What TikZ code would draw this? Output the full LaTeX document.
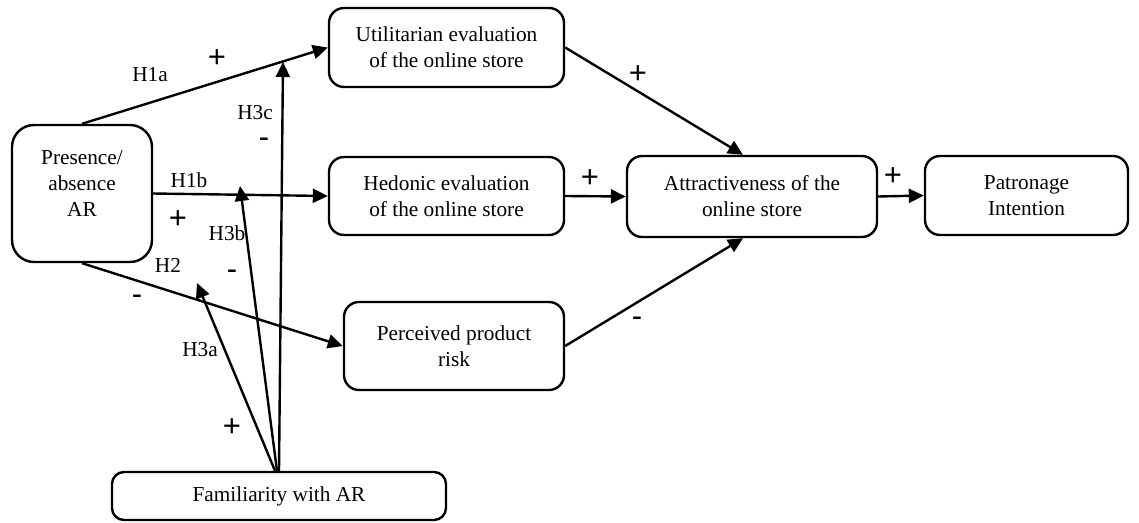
\documentclass[tikz,border=0pt]{standalone}
\usepackage{fontspec}
\setmainfont{Liberation Serif}
\newfontfamily\signfont{Liberation Sans}
\usepackage{tikz}
\usetikzlibrary{arrows.meta}
\tikzstyle{box}=[draw, line width=2.4pt, rounded corners=15pt, align=center, font=\fontsize{21.3}{26}\selectfont]
\tikzstyle{link}=[line width=2.4pt, -{Triangle[length=15pt,width=14pt]}]
\tikzstyle{hyp}=[inner sep=0pt, font=\fontsize{21.3}{26}\selectfont]
\tikzstyle{sign}=[inner sep=0pt, font=\signfont\fontsize{31}{36}\selectfont]

\begin{document}
\begin{tikzpicture}[x=1pt,y=-1pt]
\useasboundingbox (0,0) rectangle (1139,522);
\node[box, minimum width=140pt, minimum height=137pt, rounded corners=22pt, text depth=21pt] (pres) at (82,193.5) {Presence/\\absence\\AR};
\node[box, minimum width=235pt, minimum height=79pt] (util) at (446.5,47.5) {Utilitarian evaluation\\of the online store};
\node[box, minimum width=235pt, minimum height=78pt] (hed) at (446.5,196) {Hedonic evaluation\\of the online store};
\node[box, minimum width=220pt, minimum height=88pt] (per) at (454,346) {Perceived product\\risk};
\node[box, minimum width=250pt, minimum height=81pt] (attr) at (752,196.5) {Attractiveness of the\\online store};
\node[box, minimum width=203pt, minimum height=79pt] (pat) at (1026.5,195.5) {Patronage\\Intention};
\node[box, minimum width=334pt, minimum height=48pt, rounded corners=12pt] (fam) at (279,496) {Familiarity with AR};

\coordinate (m3a) at (197,283);
\coordinate (m3b) at (240,186);
\coordinate (m3c) at (283,62);

\draw[link] (pres.north) -- (util.west);
\draw[link] (pres.east) -- (hed.west);
\draw[link] (pres.south) -- (per.west);
\draw[link] (util.east) -- ([xshift=-9pt]attr.north);
\draw[link] (hed.east) -- (attr.west);
\draw[link] (per.east) -- ([xshift=-9pt]attr.south);
\draw[link] (attr.east) -- (pat.west);
\draw[link] ([xshift=-4pt]fam.north) -- (m3a);
\draw[link] ([xshift=-2pt]fam.north) -- (m3b);
\draw[link] (fam.north) -- (m3c);

\foreach \n/\t/\x/\y in {h1a/H1a/150/75, h1b/H1b/189/180, h2/H2/168/265, h3a/H3a/200/350, h3b/H3b/227/233, h3c/H3c/255/113}
  \node[hyp] (\n) at (\x,\y) {\t};
\foreach \n/\t/\x/\y in {s1/+/217/59, s2/-/264/143, s3/+/178/220, s4/-/232/275, s5/-/137/300, s6/+/232/428, s7/+/638/75, s8/+/590/179, s9/-/637/322, s10/+/893/177}
  \node[sign] (\n) at (\x,\y) {\t};
\end{tikzpicture}
\end{document}
